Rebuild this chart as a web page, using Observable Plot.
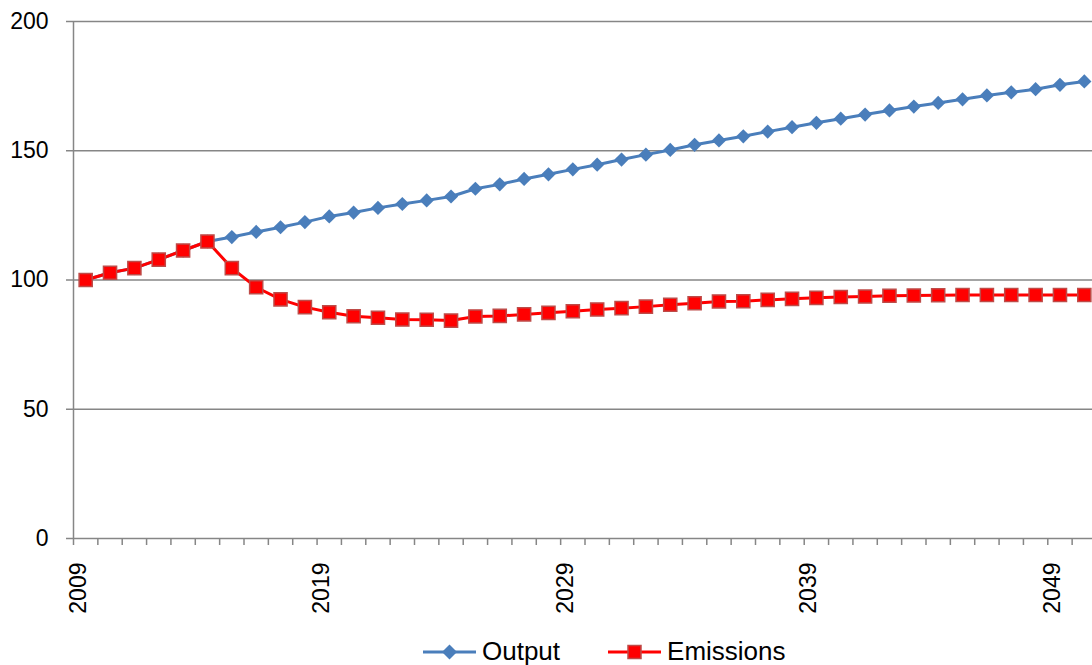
<!DOCTYPE html>
<html>
<head>
<meta charset="utf-8">
<script src="https://cdn.jsdelivr.net/npm/d3@7"></script>
<script src="https://cdn.jsdelivr.net/npm/@observablehq/plot@0.6"></script>
<style>
  html, body { margin: 0; padding: 0; background: #fff; overflow: hidden; width: 1092px; height: 665px; }
  #wrap { position: relative; width: 1092px; height: 665px; overflow: hidden; font-family: "Liberation Sans", Arial, sans-serif; }
  #chart svg { max-width: none !important; }
  #legend { position: absolute; left: 423px; top: 636px; display: flex; align-items: center; font-size: 26px; color: #000; white-space: nowrap; }
  #legend .item { display: flex; align-items: center; }
  #legend svg { display: block; }
</style>
</head>
<body>
<div id="wrap"><div id="chart"></div><div id="legend"></div></div>
<script>
const years = [2009,2010,2011,2012,2013,2014,2015,2016,2017,2018,2019,2020,2021,2022,2023,2024,2025,2026,2027,2028,2029,2030,2031,2032,2033,2034,2035,2036,2037,2038,2039,2040,2041,2042,2043,2044,2045,2046,2047,2048,2049,2050];
const output = [100,102.8,104.6,107.9,111.4,114.9,116.6,118.6,120.4,122.4,124.6,126.1,127.9,129.4,130.8,132.3,135.3,137.0,139.1,140.9,142.8,144.6,146.6,148.5,150.3,152.3,154.0,155.6,157.4,159.1,160.8,162.4,164.0,165.6,167.1,168.5,169.9,171.4,172.6,173.8,175.5,176.8];
const emissions = [100,102.8,104.6,107.9,111.4,114.9,104.6,97.2,92.5,89.5,87.5,86.0,85.4,84.7,84.6,84.3,85.9,86.1,86.7,87.3,87.9,88.6,89.1,89.7,90.4,91.0,91.7,91.8,92.3,92.7,93.1,93.4,93.6,93.9,94.0,94.1,94.2,94.2,94.2,94.2,94.2,94.2];
const labelYears = [2009,2019,2029,2039,2049];
const yTicks = [0,50,100,150,200];
const gridValues = [50,100,150,200];

const data = years.map((y, i) => ({year: y, output: output[i], emissions: emissions[i]}));
const boundaries = years.map(y => y - 0.5).concat([years[years.length - 1] + 0.5]);

const gray = "#868686";
const blue = "#4A7EBB";
const red = "#FF0000";

const chart = Plot.plot({
  width: 1100,
  height: 630,
  marginLeft: 73,
  marginRight: 4,
  marginTop: 21,
  marginBottom: 92,
  style: {fontFamily: "'Liberation Sans', Arial, sans-serif", background: "#fff", color: "#000", maxWidth: "none"},
  x: {type: "linear", domain: [years[0] - 0.5, years[years.length - 1] + 0.5]},
  y: {domain: [0, 200]},
  marks: [
    Plot.ruleY(gridValues, {stroke: gray, strokeWidth: 1.5}),
    Plot.ruleY([0], {stroke: gray, strokeWidth: 1.5}),
    Plot.ruleX([years[0] - 0.5], {y1: 0, y2: 200, stroke: gray, strokeWidth: 1.5}),
    Plot.axisY({ticks: yTicks, tickSize: 7, tickPadding: 18, stroke: gray, strokeWidth: 1.5, fill: "#000", fontSize: 23, label: null, tickFormat: d => String(d)}),
    Plot.axisX({ticks: boundaries, tickSize: 7, tickFormat: () => "", stroke: gray, strokeWidth: 1.5, label: null}),
    Plot.text(labelYears, {x: d => d, frameAnchor: "bottom", dy: 24, rotate: -90, textAnchor: "end", fontSize: 23, fill: "#000", text: d => String(d)}),
    Plot.line(data, {x: "year", y: "output", stroke: blue, strokeWidth: 3}),
    Plot.dot(data, {x: "year", y: "output", symbol: "diamond2", r: 6.4, fill: blue, stroke: "none"}),
    Plot.line(data, {x: "year", y: "emissions", stroke: red, strokeWidth: 3}),
    Plot.dot(data, {x: "year", y: "emissions", symbol: "square", r: 7.4, fill: red, stroke: "#BE4B48", strokeWidth: 1.5})
  ]
});
document.getElementById("chart").appendChild(chart);

// legend
const legendItems = [
  {name: "Output", color: blue, symbol: "diamond"},
  {name: "Emissions", color: red, symbol: "square"}
];
const legend = d3.select("#legend");
legendItems.forEach((it, i) => {
  const item = legend.append("div").attr("class", "item").style("margin-right", i === 0 ? "48px" : "0px");
  const svg = item.append("svg").attr("width", 53).attr("height", 24).style("margin-right", "6px");
  svg.append("line").attr("x1", 0).attr("x2", 53).attr("y1", 12).attr("y2", 12).attr("stroke", it.color).attr("stroke-width", 3);
  if (it.symbol === "diamond") {
    svg.append("path").attr("d", "M26.5,4.5L34,12L26.5,19.5L19,12Z").attr("fill", it.color);
  } else {
    svg.append("rect").attr("x", 20).attr("y", 5.5).attr("width", 13).attr("height", 13).attr("fill", it.color).attr("stroke", "#BE4B48").attr("stroke-width", 1.5);
  }
  item.append("span").text(it.name);
});
</script>
</body>
</html>
